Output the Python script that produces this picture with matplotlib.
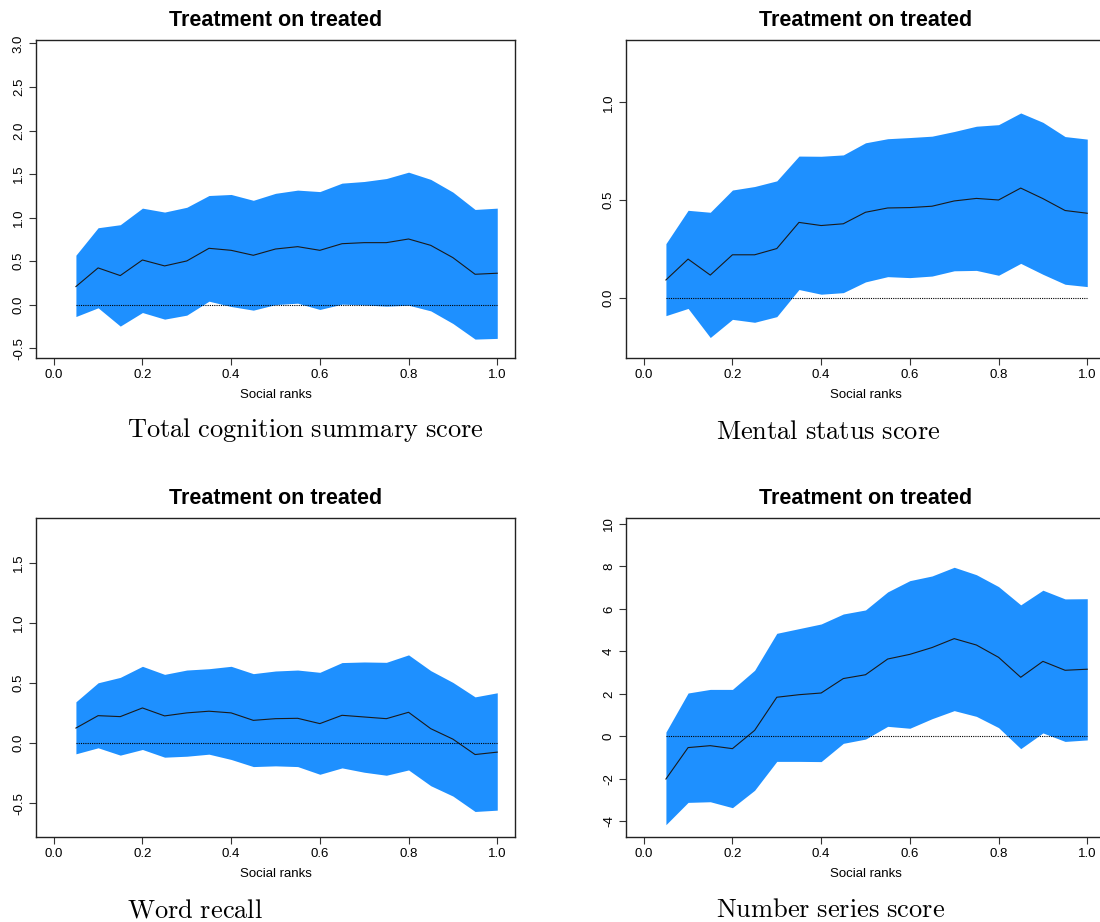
import numpy as np
import matplotlib
matplotlib.use("Agg")
import matplotlib.pyplot as plt

plt.rcParams["font.family"] = ["Liberation Sans", "DejaVu Sans"]
plt.rcParams["mathtext.fontset"] = "cm"

ranks = [0.05, 0.10, 0.15, 0.20, 0.25, 0.30, 0.35, 0.40, 0.45, 0.50,
         0.55, 0.60, 0.65, 0.70, 0.75, 0.80, 0.85, 0.90, 0.95, 1.00]

# Total cognition summary score
total_upper = [0.57, 0.885, 0.92, 1.11, 1.065, 1.12, 1.255, 1.267, 1.20, 1.28,
               1.317, 1.30, 1.397, 1.416, 1.45, 1.523, 1.44, 1.294, 1.095, 1.11]
total_est = [0.21, 0.424, 0.336, 0.515, 0.447, 0.504, 0.649, 0.626, 0.569, 0.641,
             0.668, 0.626, 0.702, 0.714, 0.714, 0.756, 0.683, 0.542, 0.351, 0.363]
total_lower = [-0.134, -0.034, -0.244, -0.088, -0.164, -0.118, 0.042, -0.019, -0.061, 0.003,
               0.019, -0.053, 0.008, 0.0, -0.015, -0.004, -0.069, -0.214, -0.393, -0.385]

# Mental status score
mental_upper = [0.276, 0.447, 0.437, 0.551, 0.569, 0.598, 0.725, 0.724, 0.731, 0.793,
                0.814, 0.82, 0.827, 0.851, 0.878, 0.886, 0.946, 0.898, 0.825, 0.812]
mental_est = [0.09, 0.197, 0.115, 0.219, 0.219, 0.251, 0.385, 0.369, 0.378, 0.437,
              0.459, 0.461, 0.468, 0.495, 0.508, 0.50, 0.561, 0.507, 0.446, 0.432]
mental_lower = [-0.093, -0.056, -0.205, -0.112, -0.127, -0.098, 0.041, 0.017, 0.025, 0.08,
                0.107, 0.102, 0.11, 0.137, 0.139, 0.114, 0.175, 0.119, 0.068, 0.056]

# Word recall
word_upper = [0.343, 0.501, 0.546, 0.638, 0.571, 0.607, 0.618, 0.638, 0.577, 0.599,
              0.607, 0.588, 0.669, 0.674, 0.671, 0.733, 0.602, 0.504, 0.384, 0.418]
word_est = [0.125, 0.228, 0.22, 0.292, 0.226, 0.251, 0.265, 0.251, 0.189, 0.203,
            0.206, 0.162, 0.231, 0.217, 0.203, 0.256, 0.12, 0.033, -0.095, -0.075]
word_lower = [-0.089, -0.039, -0.10, -0.053, -0.117, -0.109, -0.092, -0.136, -0.195, -0.189,
              -0.195, -0.259, -0.206, -0.242, -0.267, -0.223, -0.354, -0.44, -0.568, -0.557]

# Number series score
number_upper = [0.2, 2.04, 2.21, 2.21, 3.11, 4.85, 5.07, 5.29, 5.76, 5.95,
                6.8, 7.33, 7.55, 7.96, 7.61, 7.05, 6.19, 6.88, 6.47, 6.48]
number_est = [-2.01, -0.53, -0.44, -0.58, 0.28, 1.84, 1.96, 2.04, 2.72, 2.9,
              3.64, 3.86, 4.18, 4.6, 4.3, 3.72, 2.78, 3.53, 3.11, 3.16]
number_lower = [-4.16, -3.11, -3.08, -3.36, -2.54, -1.18, -1.18, -1.19, -0.33, -0.13,
                0.47, 0.38, 0.83, 1.21, 0.94, 0.41, -0.58, 0.16, -0.24, -0.17]

x_ticks = [0.0, 0.2, 0.4, 0.6, 0.8, 1.0]

panels = [
    dict(lower=total_lower, est=total_est, upper=total_upper,
         yticks=[-0.5, 0.0, 0.5, 1.0, 1.5, 2.0, 2.5, 3.0], fmt="{:.1f}",
         ylim=(-0.61, 3.04), caption="Total\\ cognition\\ summary\\ score"),
    dict(lower=mental_lower, est=mental_est, upper=mental_upper,
         yticks=[0.0, 0.5, 1.0], fmt="{:.1f}",
         ylim=(-0.31, 1.32), caption="Mental\\ status\\ score"),
    dict(lower=word_lower, est=word_est, upper=word_upper,
         yticks=[-0.5, 0.0, 0.5, 1.0, 1.5], fmt="{:.1f}",
         ylim=(-0.78, 1.87), caption="Word\\ recall"),
    dict(lower=number_lower, est=number_est, upper=number_upper,
         yticks=[-4, -2, 0, 2, 4, 6, 8, 10], fmt="{:d}",
         ylim=(-4.74, 10.28), caption="Number\\ series\\ score"),
]

W, H = 1100, 922
fig = plt.figure(figsize=(W / 100, H / 100), dpi=100)

# axes boxes in pixels: (left, top, right, bottom)
boxes = [(36, 40, 515, 358), (626, 40, 1105, 358),
         (36, 518, 515, 837), (626, 518, 1105, 837)]
title_y = [21, 21, 498, 498]
caption_xy = [(127, 437), (716, 439), (127, 917), (716, 917)]

for p, (l, t, r, b), ty, (cx, cy) in zip(panels, boxes, title_y, caption_xy):
    ax = fig.add_axes([l / W, 1 - b / H, (r - l) / W, (b - t) / H])
    ax.fill_between(ranks, p["lower"], p["upper"], color="#1E90FF", lw=0)
    ax.plot(ranks, p["est"], color="#1a1a1a", lw=0.8)
    ax.plot([ranks[0], ranks[-1]], [0, 0], color="black", lw=0.8, ls=(0, (1, 1)))
    ax.set_xlim(-0.04, 1.04)
    ax.set_ylim(*p["ylim"])
    ax.set_xticks(x_ticks)
    ax.set_xticklabels([f"{v:.1f}" for v in x_ticks], fontsize=9.5)
    ax.set_yticks(p["yticks"])
    ax.set_yticklabels([p["fmt"].format(v) for v in p["yticks"]], fontsize=9.5,
                       rotation=90, va="center")
    ax.tick_params(direction="out", length=5, width=0.8, color="#333333", pad=3)
    for s in ax.spines.values():
        s.set_linewidth(1.0)
        s.set_color("#222222")
    ax.set_xlabel("Social ranks", fontsize=9.5, labelpad=6)
    fig.text((l + r) / 2 / W, 1 - ty / H, "Treatment on treated",
             ha="center", va="center", fontsize=15.5, fontweight="bold")
    fig.text(cx / W, 1 - cy / H, "$\\mathrm{" + p["caption"] + "}$",
             ha="left", va="baseline", fontsize=19)

fig.savefig("out.png", dpi=100, facecolor="white")
